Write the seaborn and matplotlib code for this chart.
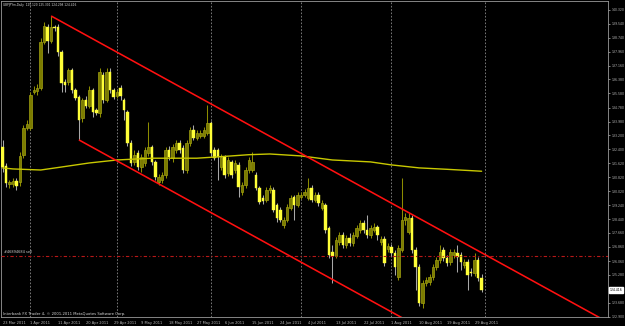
import numpy as np
import pandas as pd
import matplotlib
matplotlib.use("Agg")
import matplotlib.pyplot as plt
import matplotlib.transforms as mtransforms
import seaborn as sns

# ---------------- data (GBPJPYm, Daily) ----------------
opens = [132.54,131.46,130.44,130.44,130.61,130.55,132.08,133.62,133.62,135.66,
         135.72,135.89,138.50,139.35,138.56,139.35,139.35,137.94,136.23,136.23,
         136.91,135.78,135.38,134.19,135.21,134.87,135.78,134.64,134.47,136.63,
         135.21,136.80,135.78,135.44,135.89,135.21,134.53,132.77,131.69,132.20,
         131.40,131.63,132.20,132.54,131.69,130.55,130.66,130.95,132.37,131.91,
         132.37,132.77,132.48,131.23,132.77,133.50,133.05,133.16,133.16,133.33,
         133.90,132.37,132.37,131.40,131.97,131.06,131.69,131.23,131.52,129.98,
         130.38,131.23,131.23,130.95,130.21,129.64,129.53,130.10,130.10,129.24,
         128.96,128.11,128.39,129.07,129.70,129.24,129.70,129.81,129.64,130.21,
         129.53,129.81,129.07,129.24,127.94,126.57,126.35,127.14,127.54,126.97,
         127.37,127.09,127.48,127.82,128.22,127.82,127.54,127.82,128.00,127.14,
         127.31,126.75,126.86,126.52,125.15,126.69,128.39,127.71,128.51,126.69,
         125.72,123.68,124.81,124.87,125.15,125.72,126.12,126.69,126.23,126.00,
         126.40,126.52,126.40,125.84,126.00,125.44,125.38,126.12,125.120]
closes = [131.40,130.49,130.55,130.61,130.32,132.03,133.62,133.85,135.49,135.78,
          135.89,138.50,139.41,138.56,139.35,139.30,137.94,136.17,136.06,136.91,
          135.78,135.32,134.07,135.21,134.87,135.78,134.53,134.47,136.80,135.21,
          136.80,135.78,135.38,135.66,135.44,134.64,132.77,131.63,132.08,131.40,
          131.97,132.37,132.54,131.69,130.83,130.83,130.95,132.37,131.97,132.54,
          132.77,132.37,131.23,132.77,133.50,133.05,133.33,133.33,133.50,133.90,
          132.20,131.91,131.97,131.97,130.95,131.80,130.95,131.63,130.27,130.38,
          131.23,131.80,131.69,130.21,129.41,129.47,130.10,130.21,128.96,128.51,
          128.39,128.39,129.13,129.64,129.24,129.81,129.81,129.98,130.21,129.53,
          129.81,129.36,129.36,127.82,126.40,126.35,127.26,127.54,126.97,127.37,
          127.09,127.54,127.94,128.22,127.82,127.54,127.94,128.00,127.54,127.31,
          125.95,126.92,126.52,125.72,126.80,128.39,128.56,128.51,126.69,125.72,
          123.68,124.81,124.98,125.15,125.72,126.12,126.57,126.23,125.95,126.57,
          126.57,126.29,126.00,126.00,125.27,125.38,126.12,125.10,124.416]
highs = [132.94,131.63,130.66,130.78,130.78,132.26,133.79,134.07,135.66,136.00,
         136.12,138.73,139.64,139.52,139.98,139.47,139.52,138.05,136.40,137.03,
         137.03,135.89,135.49,135.32,135.44,136.00,135.89,134.75,137.03,136.80,
         137.03,137.03,135.89,135.78,136.06,135.32,134.64,132.94,132.37,132.37,
         132.14,132.54,133.96,132.65,131.80,131.00,131.12,132.54,132.60,132.71,
         132.94,132.94,132.65,132.94,133.68,133.79,133.50,133.50,133.68,134.93,
         134.02,132.54,132.48,132.14,132.08,131.97,131.80,131.80,131.69,130.55,
         131.40,131.97,132.26,131.12,130.32,129.81,130.27,130.38,130.27,129.36,
         129.13,128.56,129.30,129.81,129.81,129.98,129.98,130.15,130.78,130.38,
         129.98,129.98,129.53,129.36,128.05,126.97,127.42,127.71,127.71,127.54,
         127.65,127.71,128.11,128.39,128.39,128.68,128.11,128.22,128.11,127.48,
         127.48,127.09,127.03,126.69,126.97,130.78,128.79,128.79,128.68,126.86,
         125.89,124.98,125.15,125.33,125.89,126.29,126.97,126.86,126.40,126.75,
         126.75,126.97,126.57,126.18,126.18,125.67,126.52,126.29,125.301]
lows = [131.12,130.27,130.21,130.27,130.10,130.32,131.91,133.50,133.50,135.55,
        135.49,135.78,138.39,137.88,138.45,139.13,137.71,135.66,135.66,136.06,
        135.61,135.21,132.94,133.96,134.75,134.75,134.24,134.36,134.24,135.04,
        135.10,135.61,135.27,135.32,135.21,134.07,132.60,131.46,131.52,131.23,
        131.12,131.46,132.03,131.52,130.66,130.38,130.49,130.78,131.80,131.69,
        132.20,132.20,131.06,131.06,132.60,132.94,132.94,133.05,133.05,133.22,
        132.03,131.80,130.66,131.23,130.78,130.89,130.78,131.06,129.70,129.81,
        130.21,131.06,131.12,130.10,129.30,129.30,129.41,129.93,128.85,128.28,
        128.28,127.94,128.28,128.96,128.39,129.13,129.59,129.70,129.53,129.41,
        129.41,129.19,128.96,127.65,126.23,124.81,126.23,126.97,126.80,126.80,
        126.92,126.92,127.37,127.65,127.65,127.37,127.37,127.71,127.26,126.97,
        125.78,126.57,126.35,125.27,124.98,126.57,128.11,127.60,126.52,124.42,
        123.51,123.39,124.64,124.70,124.98,125.55,125.95,126.06,125.78,125.84,
        126.23,125.44,125.55,125.67,124.42,125.21,125.21,124.93,124.298]

ma_dates = ["2011-03-23","2011-03-27","2011-04-05","2011-04-12","2011-04-21","2011-05-01",
            "2011-05-12","2011-05-27","2011-06-08","2011-06-14","2011-06-21","2011-07-01",
            "2011-07-12","2011-07-25","2011-08-01","2011-08-10","2011-08-19","2011-08-31"]
ma_values = [131.35,131.29,131.23,131.40,131.63,131.80,131.90,131.90,132.03,132.10,
             132.14,132.03,131.80,131.69,131.52,131.35,131.27,131.16]

upper_channel = [("2011-04-08", 139.98), ("2011-08-31", 126.53)]
lower_channel = [("2011-04-18", 132.94), ("2011-08-31", 120.35)]
order_price = 126.35
order_label = "#46894684 sell"
last_price = 124.416

date_labels = ["23 Mar 2011","1 Apr 2011","11 Apr 2011","20 Apr 2011","29 Apr 2011",
               "9 May 2011","18 May 2011","27 May 2011","6 Jun 2011","15 Jun 2011",
               "24 Jun 2011","4 Jul 2011","13 Jul 2011","22 Jul 2011","1 Aug 2011",
               "10 Aug 2011","19 Aug 2011","29 Aug 2011"]
price_labels = ["140.320","139.540","138.740","137.960","137.160","136.380","135.580",
                "134.780","133.980","133.200","132.400","131.620","130.820","130.020",
                "129.240","128.440","127.660","126.860","126.060","125.280","123.680",
                "122.900"]
separator_dates = ["2011-04-01","2011-05-01","2011-06-01","2011-07-01","2011-08-01","2011-09-01"]

title_text = "GBPJPYm,Daily  125.120 125.301 124.298 124.416"
footer_text = "Interbank FX Trader 4, \u00a9 2001-2011 MetaQuotes Software Corp."

# ---------------- style ----------------
sns.set_theme(style="dark", rc={
    "axes.facecolor": "#000000", "figure.facecolor": "#000000",
    "axes.edgecolor": "#9a9a9a", "text.color": "#d0d0d0",
    "xtick.color": "#9a9a9a", "ytick.color": "#9a9a9a",
    "axes.grid": False, "axes.linewidth": 0.6})
plt.rcParams["font.family"] = ["DejaVu Sans"]

all_days = pd.date_range("2011-03-23", "2011-08-31", freq="D")
bar_dates = all_days[all_days.weekday != 5]
pos = {d.strftime("%Y-%m-%d"): k for k, d in enumerate(bar_dates)}
x = np.arange(len(bar_dates))

W, H = 625, 326
fig = plt.figure(figsize=(W / 100, H / 100), dpi=100)
ax = fig.add_axes([0.5 / W, 9 / H, 607.5 / W, 316 / H])
ax.set_xlim(-0.58, 174.4)
ax.set_ylim(122.88, 140.83)

o = np.array(opens); c = np.array(closes); h = np.array(highs); l = np.array(lows)
up = c >= o
body_lo = np.minimum(o, c)
body_h = np.maximum(np.abs(c - o), 0.035)

bull_face, bull_edge, bull_wick = "#7c7c00", "#a0a010", "#8c8c00"
bear_face, bear_wick = "#ffff38", "#a8a8a8"

ax.vlines(x[up], l[up], h[up], color=bull_wick, lw=0.75, zorder=2)
ax.vlines(x[~up], l[~up], h[~up], color=bear_wick, lw=0.75, zorder=2)
ax.bar(x[up], body_h[up], bottom=body_lo[up], width=0.72, color=bull_face,
       edgecolor=bull_edge, linewidth=0.5, zorder=3)
ax.bar(x[~up], body_h[~up], bottom=body_lo[~up], width=0.72, color=bear_face,
       edgecolor=bear_face, linewidth=0.3, zorder=3)

# month separators
for d in separator_dates:
    xi = int(np.searchsorted(bar_dates, pd.Timestamp(d)))
    ax.axvline(xi, color="#8a8a8a", lw=0.6, ls=(0, (2, 2)), zorder=1)

# moving average
sns.lineplot(x=[pos[d] for d in ma_dates], y=ma_values, ax=ax, color="#c8c800",
             lw=1.0, zorder=4)

# order line
blend = mtransforms.blended_transform_factory(ax.transAxes, ax.transData)
ax.axhline(order_price, color="#b81818", lw=0.8, ls=(0, (3, 2, 1, 2)), zorder=4)
ax.text(3 / 607.5, order_price + 0.25, order_label, transform=blend,
        fontsize=2.5, color="#d0d0d0", va="center", ha="left", zorder=6)

# channel rays
xe = ax.get_xlim()[1]
for (d0, p0), (d1, p1) in (upper_channel, lower_channel):
    x0, x1 = pos[d0], pos[d1]
    slope = (p1 - p0) / (x1 - x0)
    ax.plot([x0, xe], [p0, p0 + slope * (xe - x0)], color="#ff1010", lw=1.15,
            solid_capstyle="butt", zorder=5)

# axes ticks
label_pos = [pos[pd.to_datetime(s, format="%d %b %Y").strftime("%Y-%m-%d")] for s in date_labels]
ax.set_xticks(label_pos)
ax.set_xticklabels(date_labels)
plt.setp(ax.get_xticklabels(), ha="left")
ax.yaxis.tick_right()
ax.set_yticks([float(s) for s in price_labels])
ax.set_yticklabels(price_labels)
ax.tick_params(axis="x", length=2, width=0.5, pad=1.2, labelsize=2.6,
               colors="#b8b8b8", direction="out")
ax.tick_params(axis="y", length=1.5, width=0.5, pad=0.8, labelsize=2.25,
               colors="#b8b8b8", direction="out")
ax.set_xlabel(""); ax.set_ylabel("")
for s in ax.spines.values():
    s.set_color("#9a9a9a"); s.set_linewidth(0.6)

# last price box
ax.text(1.002, last_price, f"{last_price:.3f}", transform=blend,
        fontsize=2.25, color="black", va="center", ha="left", zorder=7,
        bbox=dict(fc="white", ec="white", pad=0.4), clip_on=False)

fig.text(3 / W, 1 - 5 / H, title_text, fontsize=2.1, color="#d8d8d8", va="center", ha="left")
fig.text(3 / W, 1 - 313.5 / H, footer_text, fontsize=2.7, color="#d8d8d8", va="center", ha="left")

fig.savefig("out.png", dpi=100, facecolor="#000000")
